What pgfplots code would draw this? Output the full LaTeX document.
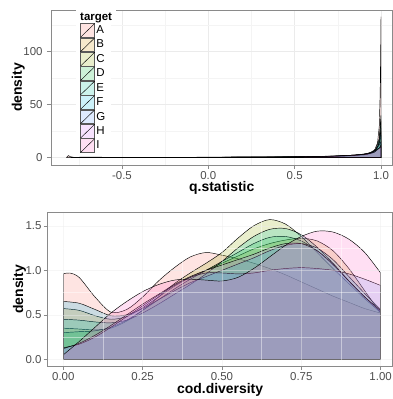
\documentclass[border=0pt]{standalone}
\usepackage{pgfplots}
\pgfplotsset{compat=1.18}
\usepackage{fontspec}
\setmainfont{Liberation Sans}
\definecolor{cA}{HTML}{F8766D}
\definecolor{cB}{HTML}{D39200}
\definecolor{cC}{HTML}{93AA00}
\definecolor{cD}{HTML}{00BA38}
\definecolor{cE}{HTML}{00C19F}
\definecolor{cF}{HTML}{00B9E3}
\definecolor{cG}{HTML}{619CFF}
\definecolor{cH}{HTML}{DB72FB}
\definecolor{cI}{HTML}{FF61C3}
\definecolor{gridc}{HTML}{EBEBEB}
\definecolor{gridm}{HTML}{F4F4F4}
\definecolor{ticklab}{HTML}{4D4D4D}
\definecolor{bord}{HTML}{8A8A8A}

\pgfplotsset{
 ggbase/.style={
  scale only axis,
  axis line style={bord, line width=0.6bp},
  tick style={bord, line width=0.5bp},
  tick align=outside,
  major tick length=4bp,
  minor tick length=0pt,
  tick pos=left,
  grid=both,
  major grid style={gridc, line width=0.6bp},
  minor grid style={gridm, line width=0.5bp},
  ticklabel style={font=\fontsize{11.5}{12}\selectfont, text=ticklab},
  label style={font=\fontsize{14}{15}\selectfont\bfseries},
 },
 dens/.style={draw=black, line width=0.45bp, fill=#1, fill opacity=0.2},
}

\begin{document}
\begin{tikzpicture}
\path[use as bounding box] (0,0) rectangle (393bp,399bp);

% ---------------- top panel ----------------
\begin{axis}[ggbase,
  at={(51bp,234bp)}, anchor=south west,
  width=341.5bp, height=155bp,
  xmin=-0.911, xmax=1.0666, ymin=-6.9, ymax=139.3,
  xtick={-0.5,0,0.5,1}, xticklabels={-0.5,0.0,0.5,1.0},
  minor xtick={-0.75,-0.25,0.25,0.75},
  ytick={0,50,100}, yticklabels={0,50,100},
  minor ytick={25,75,125},
  xticklabel style={anchor=north, inner sep=0pt, yshift=-2bp},
  yticklabel style={anchor=east, inner sep=0pt, xshift=-4.3bp},
  xlabel={q.statistic}, ylabel={density},
  xlabel style={at={(axis description cs:0.5,-0.148)}, anchor=center},
  ylabel style={at={(axis description cs:-0.0958,0.5)}, anchor=center, rotate=0},
  legend style={at={(axis description cs:0.0732,0.9355)}, anchor=north west,
    fill=white, draw=none, inner xsep=4bp, inner ysep=3bp,
    row sep=0pt, column sep=0pt, font=\fontsize{11.5}{12}\selectfont,
    nodes={inner xsep=1.5bp, inner ysep=0pt}, name=leg},
  legend cell align=left,
  legend image code/.code={
    \draw[#1, draw=black!65, line width=0.5bp] (0bp,-6.95bp) rectangle (14.3bp,6.95bp);
    \draw[black, line width=0.4bp] (0bp,-6.95bp) -- (14.3bp,6.95bp);},
]
\addplot[dens=cA] coordinates {(-0.82,0.5) (-0.81,2.0) (-0.80,1.0) (-0.78,0.4) (-0.70,0.2) (-0.5,0.15) (-0.3,0.2) (-0.1,0.15) (0.0,0.3) (0.1,0.2) (0.2,0.4) (0.3,0.3) (0.45,0.5) (0.6,0.6) (0.75,1.0) (0.85,1.8) (0.92,3.0) (0.96,6) (0.98,14) (0.99,30) (0.995,60) (0.998,100) (1.0,133)} \closedcycle;
\addlegendentry{A}
\addplot[dens=cB] coordinates {(-0.78,0.3) (-0.7,0.6) (-0.6,0.4) (-0.4,0.3) (-0.2,0.3) (0,0.5) (0.2,0.6) (0.4,0.5) (0.6,0.8) (0.8,1.5) (0.9,2.5) (0.95,4) (0.98,9) (0.99,18) (1.0,35)} \closedcycle;
\addlegendentry{B}
\addplot[dens=cC] coordinates {(-0.6,0.2) (-0.4,0.3) (-0.1,0.4) (0.1,0.4) (0.3,0.6) (0.5,0.7) (0.7,1.2) (0.85,2.2) (0.93,3.5) (0.97,6) (0.99,13) (1.0,25)} \closedcycle;
\addlegendentry{C}
\addplot[dens=cD] coordinates {(-0.3,0.2) (0,0.3) (0.2,0.5) (0.45,0.8) (0.6,0.8) (0.75,1.4) (0.88,2.8) (0.95,5) (0.98,10) (1.0,20)} \closedcycle;
\addlegendentry{D}
\addplot[dens=cE] coordinates {(-0.5,0.2) (-0.25,0.3) (0,0.4) (0.25,0.5) (0.5,0.7) (0.7,1.3) (0.85,2.5) (0.93,4) (0.97,8) (0.99,18) (1.0,40)} \closedcycle;
\addlegendentry{E}
\addplot[dens=cF] coordinates {(-0.2,0.2) (0.1,0.4) (0.3,0.5) (0.55,1.0) (0.75,1.6) (0.9,3) (0.96,6) (0.99,12) (1.0,15)} \closedcycle;
\addlegendentry{F}
\addplot[dens=cG] coordinates {(-0.4,0.2) (0,0.4) (0.3,0.5) (0.6,0.9) (0.8,1.8) (0.92,3.2) (0.97,7) (0.99,14) (1.0,28)} \closedcycle;
\addlegendentry{G}
\addplot[dens=cH] coordinates {(0,0.3) (0.2,0.4) (0.5,0.6) (0.7,1.2) (0.85,2.2) (0.94,4) (0.98,8) (1.0,10)} \closedcycle;
\addlegendentry{H}
\addplot[dens=cI] coordinates {(-0.1,0.2) (0.2,0.5) (0.45,0.6) (0.65,1.1) (0.8,2) (0.9,3) (0.96,5) (0.99,9) (1.0,12)} \closedcycle;
\addlegendentry{I}
\end{axis}
\node[anchor=base west, fill=white, inner xsep=4bp, inner ysep=0pt,
      text height=12bp, text depth=2.4bp, yshift=-0.5bp,
      font=\fontsize{11.5}{12}\selectfont\bfseries] at (leg.north west) {target};

% ---------------- bottom panel ----------------
\begin{axis}[ggbase,
  at={(47.7bp,33bp)}, anchor=south west,
  width=344.8bp, height=153.7bp,
  xmin=-0.0492, xmax=1.0375, ymin=-0.0753, ymax=1.652,
  xtick={0,0.25,0.5,0.75,1}, xticklabels={0.00,0.25,0.50,0.75,1.00},
  minor xtick={0.125,0.375,0.625,0.875},
  ytick={0,0.5,1,1.5}, yticklabels={0.0,0.5,1.0,1.5},
  minor ytick={0.25,0.75,1.25},
  xticklabel style={anchor=north, inner sep=0pt, yshift=-2.5bp},
  yticklabel style={anchor=east, inner sep=0pt, xshift=-2bp},
  xlabel={cod.diversity}, ylabel={density},
  xlabel style={at={(axis description cs:0.5,-0.156)}, anchor=center},
  ylabel style={at={(axis description cs:-0.0818,0.5)}, anchor=center, rotate=0},
  axis on top,
  major grid style={gridc, line width=0.6bp, opacity=0.45},
  minor grid style={white, line width=0.6bp, opacity=0.45},
]
\addplot[dens=cA, smooth] coordinates {(0,0.96) (0.02,0.97) (0.05,0.92) (0.1,0.7) (0.15,0.53) (0.2,0.56) (0.25,0.7) (0.3,0.88) (0.35,1.03) (0.4,1.15) (0.45,1.2) (0.5,1.17) (0.55,1.13) (0.6,1.08) (0.65,1.02) (0.7,0.95) (0.75,0.87) (0.8,0.79) (0.85,0.71) (0.9,0.64) (0.95,0.57) (1.0,0.52)} \closedcycle;
\addplot[dens=cB, smooth] coordinates {(0,0.57) (0.05,0.55) (0.1,0.49) (0.15,0.45) (0.2,0.48) (0.25,0.58) (0.3,0.7) (0.35,0.82) (0.4,0.92) (0.45,1.0) (0.5,1.08) (0.55,1.16) (0.6,1.24) (0.65,1.3) (0.7,1.34) (0.75,1.36) (0.8,1.33) (0.85,1.22) (0.9,1.02) (0.95,0.77) (1.0,0.52)} \closedcycle;
\addplot[dens=cC, smooth] coordinates {(0,0.35) (0.05,0.34) (0.1,0.33) (0.15,0.35) (0.2,0.43) (0.25,0.55) (0.3,0.7) (0.35,0.85) (0.4,0.97) (0.45,1.08) (0.5,1.2) (0.55,1.36) (0.6,1.5) (0.65,1.57) (0.7,1.52) (0.75,1.38) (0.8,1.2) (0.85,1.02) (0.9,0.85) (0.95,0.68) (1.0,0.53)} \closedcycle;
\addplot[dens=cD, smooth] coordinates {(0,0.30) (0.05,0.31) (0.1,0.32) (0.15,0.36) (0.2,0.44) (0.25,0.55) (0.3,0.67) (0.35,0.79) (0.4,0.9) (0.45,1.0) (0.5,1.1) (0.55,1.2) (0.6,1.3) (0.65,1.37) (0.7,1.38) (0.75,1.33) (0.8,1.22) (0.85,1.06) (0.9,0.88) (0.95,0.7) (1.0,0.52)} \closedcycle;
\addplot[dens=cE, smooth] coordinates {(0,0.45) (0.05,0.44) (0.1,0.42) (0.15,0.41) (0.2,0.44) (0.25,0.52) (0.3,0.62) (0.35,0.73) (0.4,0.84) (0.45,0.96) (0.5,1.1) (0.55,1.25) (0.6,1.38) (0.65,1.46) (0.7,1.47) (0.75,1.4) (0.8,1.26) (0.85,1.08) (0.9,0.88) (0.95,0.7) (1.0,0.54)} \closedcycle;
\addplot[dens=cF, smooth] coordinates {(0,0.65) (0.05,0.63) (0.1,0.56) (0.15,0.49) (0.2,0.5) (0.25,0.57) (0.3,0.67) (0.35,0.77) (0.4,0.86) (0.45,0.93) (0.5,1.0) (0.55,1.07) (0.6,1.14) (0.65,1.22) (0.7,1.28) (0.75,1.3) (0.8,1.25) (0.85,1.12) (0.9,0.93) (0.95,0.74) (1.0,0.56)} \closedcycle;
\addplot[dens=cG, smooth] coordinates {(0,0.13) (0.05,0.17) (0.1,0.25) (0.15,0.36) (0.2,0.48) (0.25,0.6) (0.3,0.72) (0.35,0.83) (0.4,0.92) (0.45,0.97) (0.5,0.97) (0.55,0.96) (0.6,0.97) (0.65,1.0) (0.7,1.02) (0.75,1.03) (0.8,1.02) (0.85,1.0) (0.9,0.96) (0.95,0.9) (1.0,0.83)} \closedcycle;
\addplot[dens=cH, smooth] coordinates {(0,0.12) (0.05,0.18) (0.1,0.27) (0.15,0.38) (0.2,0.5) (0.25,0.62) (0.3,0.73) (0.35,0.84) (0.4,0.93) (0.45,1.0) (0.5,1.06) (0.55,1.12) (0.6,1.18) (0.65,1.25) (0.7,1.3) (0.75,1.3) (0.8,1.22) (0.85,1.07) (0.9,0.88) (0.95,0.7) (1.0,0.55)} \closedcycle;
\addplot[dens=cI, smooth] coordinates {(0,0.05) (0.05,0.2) (0.1,0.36) (0.15,0.52) (0.2,0.65) (0.25,0.76) (0.3,0.84) (0.35,0.89) (0.4,0.9) (0.45,0.89) (0.5,0.88) (0.55,0.92) (0.6,1.02) (0.65,1.15) (0.7,1.28) (0.75,1.38) (0.8,1.44) (0.85,1.43) (0.9,1.35) (0.95,1.2) (1.0,0.97)} \closedcycle;
\end{axis}
\end{tikzpicture}
\end{document}
